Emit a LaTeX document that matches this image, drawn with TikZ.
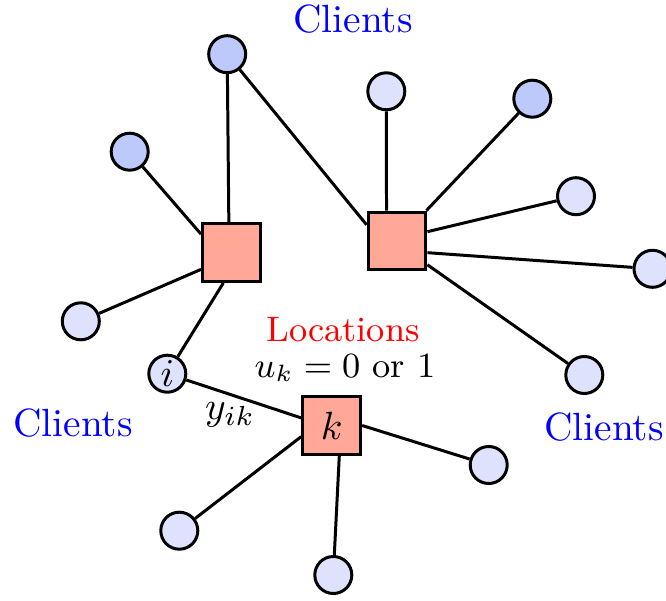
\documentclass[tikz,border=0pt]{standalone}
\usetikzlibrary{positioning}
\definecolor{clight}{RGB}{222,226,252}
\definecolor{cdark}{RGB}{188,201,250}
\definecolor{csq}{RGB}{255,168,152}
\begin{document}
\begin{tikzpicture}[x=0.254pt,y=-0.254pt,
  client/.style={circle,draw,line width=0.76pt,fill=clight,minimum size=9.4pt,inner sep=0pt},
  dclient/.style={client,fill=cdark},
  loc/.style={rectangle,draw,line width=0.76pt,fill=csq,minimum size=14.7pt,inner sep=0pt},
  link/.style={line width=0.76pt},
  lbl/.style={inner sep=0pt}]
\useasboundingbox (0,0) rectangle (666,601);
% locations
\node[loc] (s1) at (231.5,252.5) {};
\node[loc] (s2) at (397,241) {};
\node[loc] (s3) at (331.7,425.5) {$k$};
% clients
\node[dclient] (c1) at (227.2,54.2) {};
\node[dclient] (c2) at (129.7,151.7) {};
\node[client] (c3) at (80.8,321.3) {};
\node[client] (ci) at (167.3,373.7) {$i$};
\node[client] (c5) at (386.3,91.3) {};
\node[dclient] (c6) at (532.3,98.7) {};
\node[client] (c7) at (576,196.2) {};
\node[client] (c8) at (652.5,268.8) {};
\node[client] (c9) at (584.3,375) {};
\node[client] (c10) at (488.7,465) {};
\node[client] (c11) at (179.3,530.7) {};
\node[client] (c12) at (333.3,575) {};
% links
\draw[link] (c1) -- (s1.95);
\draw[link] (c1) -- (s2.152);
\draw[link] (c2) -- (s1.149);
\draw[link] (c3) -- (s1.209);
\draw[link] (ci) -- (s1.255);
\draw[link] (c5) -- (s2.109);
\draw[link] (c6) -- (s2.46);
\draw[link] (c7) -- (s2.17);
\draw[link] (c8) -- (s2.339);
\draw[link] (c9) -- (s2.322);
\draw[link] (ci) -- (s3.166);
\draw[link] (c11) -- (s3.200);
\draw[link] (c12) -- (s3.284);
\draw[link] (c10) -- (s3.east);
% labels
\node[lbl,text=blue] (t1) at (353,19) {Clients};
\node[lbl,text=blue] (t2) at (73,423) {Clients};
\node[lbl,text=blue] (t3) at (604,427) {Clients};
\node[lbl,text=red,font=\small] (t4) at (343,330) {Locations};
\node[lbl,font=\small] (t5) at (345,368) {$u_k = 0$ or $1$};
\node[lbl] (t6) at (230,415) {$y_{ik}$};
\end{tikzpicture}
\end{document}
